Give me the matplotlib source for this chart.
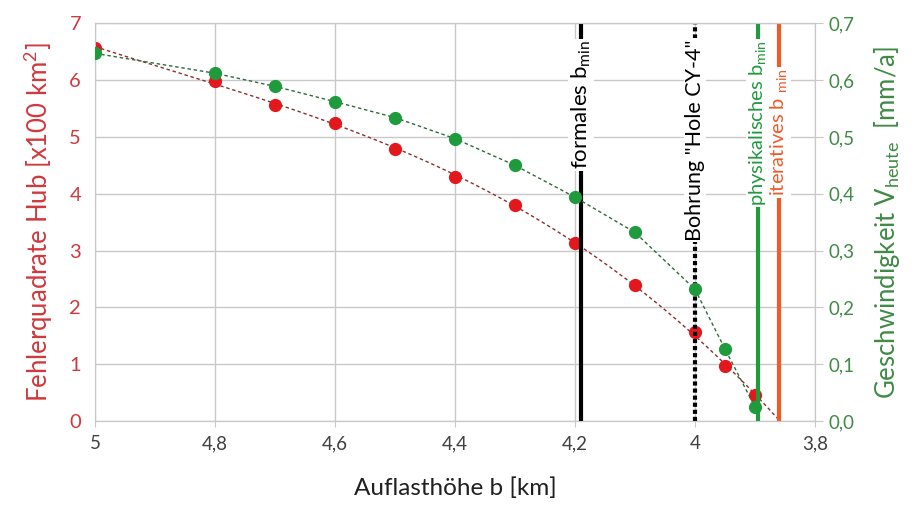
import numpy as np
import matplotlib.pyplot as plt

plt.rcParams['font.family'] = ['Lato', 'DejaVu Sans']

# Auflasthöhe b [km]
b_km = [5.0, 4.8, 4.7, 4.6, 4.5, 4.4, 4.3, 4.2, 4.1, 4.0, 3.95, 3.9]
# Fehlerquadrate Hub [x100 km^2]
fehler = [6.57, 5.98, 5.57, 5.24, 4.78, 4.29, 3.81, 3.13, 2.39, 1.56, 0.97, 0.46]
# Geschwindigkeit V_heute [mm/a]
geschw = [0.647, 0.612, 0.589, 0.562, 0.534, 0.497, 0.45, 0.394, 0.332, 0.232, 0.127, 0.025]

x_ticks = [5.0, 4.8, 4.6, 4.4, 4.2, 4.0, 3.8]
x_labels = ['5', '4,8', '4,6', '4,4', '4,2', '4', '3,8']
left_ticks = [0, 1, 2, 3, 4, 5, 6, 7]
right_ticks = [0.0, 0.1, 0.2, 0.3, 0.4, 0.5, 0.6, 0.7]
right_labels = ['0,0', '0,1', '0,2', '0,3', '0,4', '0,5', '0,6', '0,7']

# senkrechte Markierungen
b_formal = 4.19
b_bohrung = 4.0
b_phys = 3.895
b_iter = 3.86

RED = '#e3181c'
RED_TXT = '#d0383c'
GREEN = '#1f9a3c'
GREEN_TXT = '#3f8a45'
ORANGE = '#f05a28'
GRID = '#c8c8c8'

fig = plt.figure(figsize=(9.16, 5.05), dpi=100)
ax = fig.add_axes([0.1037, 0.166, 0.786, 0.788])
ax2 = ax.twinx()

ax.set_xlim(5.0, 3.8)
ax.set_ylim(0, 7)
ax2.set_ylim(0, 0.7)

ax.set_xticks(x_ticks)
ax.set_xticklabels(x_labels)
ax.set_yticks(left_ticks)
ax2.set_yticks(right_ticks)
ax2.set_yticklabels(right_labels)

ax.grid(True, color=GRID, linewidth=1)
ax.set_axisbelow(True)
for a in (ax, ax2):
    for s in a.spines.values():
        s.set_color(GRID)
ax.tick_params(axis='x', colors='#404040', labelsize=13.5, length=4, color=GRID, pad=6)
ax.tick_params(axis='y', colors=RED_TXT, labelsize=14.5, length=0, pad=10)
ax2.tick_params(axis='y', colors=GREEN_TXT, labelsize=13.5, length=6, color=GRID, pad=4)

# Trendlinien
pr = np.polyfit(b_km, fehler, 3)
xr = np.linspace(5.0, b_iter, 200)
ax.plot(xr, np.polyval(pr, xr), ls=(0, (2.5, 2)), color='#8a3030', lw=1, zorder=2)
ax2.plot(b_km, geschw, ls=(0, (2.5, 2)), color='#2f6a3a', lw=1, zorder=2)

ax.plot(b_km, fehler, 'o', color=RED, ms=8.5, zorder=3)
ax2.plot(b_km, geschw, 'o', color=GREEN, ms=8.5, zorder=3)

# senkrechte Linien mit Beschriftung
ax2.axvline(b_formal, color='black', lw=3, zorder=1)
ax2.axvline(b_bohrung, color='black', lw=3, ls=(0, (1, 0.7)), zorder=1)
ax2.axvline(b_phys, color=GREEN, lw=3, zorder=1)
ax2.axvline(b_iter, color=ORANGE, lw=3, zorder=1)

box = dict(facecolor='white', edgecolor='none', pad=1)
ax2.text(b_formal, 0.67, 'formales b$_{\\mathregular{min}}$', rotation=90, ha='center', va='top',
         fontsize=16, color='black', bbox=box, zorder=4)
ax2.text(b_bohrung, 0.672, 'Bohrung "Hole CY-4"', rotation=90, ha='center', va='top',
         fontsize=15.5, color='black', bbox=box, zorder=4)
ax2.text(b_phys, 0.67, 'physikalisches b$_{\\mathregular{min}}$', rotation=90, ha='center', va='top',
         fontsize=14.5, color=GREEN, bbox=box, zorder=4)
ax2.text(b_iter, 0.62, 'iteratives b $_{\\mathregular{min}}$', rotation=90, ha='center', va='top',
         fontsize=14.5, color=ORANGE, bbox=box, zorder=4)

ax.set_xlabel('Auflasthöhe b [km]', fontsize=17.5, color='#202020', labelpad=18)
ax.set_ylabel('Fehlerquadrate Hub [x100 km$^{\\mathregular{2}}$]', fontsize=18.5, color=RED_TXT, labelpad=10)
ax2.set_ylabel('Geschwindigkeit V$_{\\mathregular{heute}}$  [mm/a]', fontsize=18.5, color=GREEN_TXT, labelpad=12)

fig.savefig('out.png', dpi=100)
